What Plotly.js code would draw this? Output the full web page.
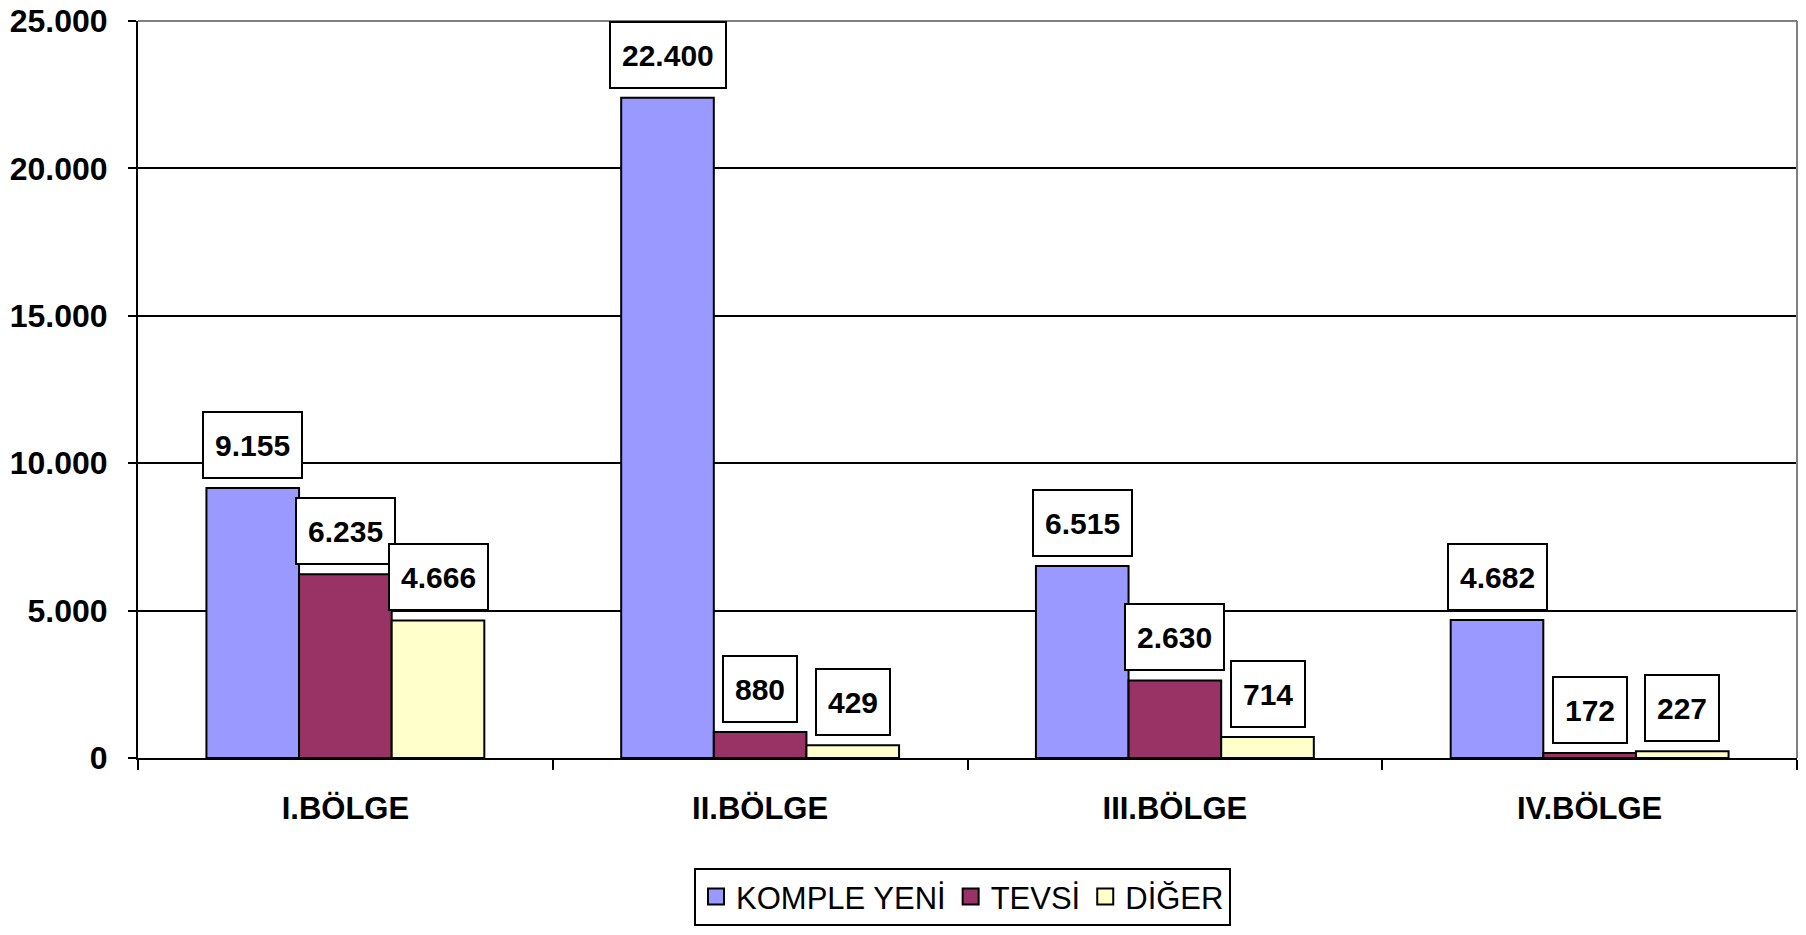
<!DOCTYPE html>
<html>
<head>
<meta charset="utf-8">
<script src="https://cdn.plot.ly/plotly-3.0.1.min.js"></script>
<style>html,body{margin:0;padding:0;background:#fff;}#chart{width:1806px;height:935px;}</style>
</head>
<body>
<div id="chart"></div>
<script>
const categories = ["I.BÖLGE", "II.BÖLGE", "III.BÖLGE", "IV.BÖLGE"];
const seriesNames = ["KOMPLE YENİ", "TEVSİ", "DİĞER"];
const kompleYeni = [9155, 22400, 6515, 4682];
const tevsi = [6235, 880, 2630, 172];
const diger = [4666, 429, 714, 227];
const yTicks = [0, 5000, 10000, 15000, 20000, 25000];

const colors = ["#9999FF", "#993366", "#FFFFCC"];
const seriesValues = [kompleYeni, tevsi, diger];
const bargap = 0.33;
const barW = (1 - bargap) / seriesValues.length;

function fmt(v) {
  return String(v).replace(/\B(?=(\d{3})+(?!\d))/g, ".");
}

const font = "Liberation Sans, Arial, sans-serif";

const traces = seriesValues.map((vals, s) => ({
  type: "bar",
  name: seriesNames[s],
  x: categories,
  y: vals,
  marker: {color: colors[s], line: {color: "#000", width: 2}},
  showlegend: false,
  hoverinfo: "none"
}));

// legend proxies (larger square symbols)
seriesNames.forEach((n, s) => {
  traces.push({
    type: "scatter",
    mode: "markers",
    name: n,
    x: [null], y: [null],
    marker: {symbol: "square", size: 16, color: colors[s], line: {color: "#000", width: 2}},
    showlegend: true,
    hoverinfo: "none"
  });
});

const annotations = [];
seriesValues.forEach((vals, s) => {
  const off = (s - (seriesValues.length - 1) / 2) * barW;
  vals.forEach((v, i) => {
    annotations.push({
      xref: "x", yref: "y",
      x: i + off, y: v,
      xanchor: "center", yanchor: "bottom",
      yshift: 9,
      text: "<b>" + fmt(v) + "</b>",
      showarrow: false,
      height: 42,
      bgcolor: "#fff",
      bordercolor: "#000",
      borderwidth: 2,
      borderpad: 11,
      font: {family: font, size: 30, color: "#000"}
    });
  });
});

const layout = {
  width: 1806, height: 935,
  margin: {l: 138, r: 9, t: 21, b: 174},
  paper_bgcolor: "#fff", plot_bgcolor: "#fff",
  separators: ",.",
  barmode: "group",
  bargap: bargap,
  bargroupgap: 0,
  showlegend: true,
  legend: {
    orientation: "h",
    x: 0.497, xanchor: "center",
    y: -0.149, yanchor: "top",
    bordercolor: "#000", borderwidth: 2,
    font: {family: font, size: 31, color: "#000"},
    itemsizing: "trace",
    itemwidth: 30,
    traceorder: "normal"
  },
  xaxis: {
    type: "category",
    showline: true, linecolor: "#000", linewidth: 2,
    ticks: "outside", tickson: "boundaries", ticklen: 10, tickwidth: 2, tickcolor: "#000",
    tickfont: {family: font, size: 31, color: "#000", weight: "bold"},
    ticklabelstandoff: 22,
    showgrid: false, zeroline: false,
    range: [-0.5, 3.5],
    fixedrange: true
  },
  yaxis: {
    range: [0, 25000],
    tickvals: yTicks,
    ticktext: yTicks.map(fmt),
    showline: true, linecolor: "#000", linewidth: 2,
    ticks: "outside", ticklen: 8, tickwidth: 2, tickcolor: "#000",
    tickfont: {family: font, size: 32, color: "#000", weight: "bold"},
    ticklabelstandoff: 14,
    showgrid: true, gridcolor: "#000", gridwidth: 2,
    zeroline: false,
    fixedrange: true
  },
  shapes: [
    {type: "line", xref: "paper", yref: "paper", x0: 0, x1: 1, y0: 1, y1: 1, line: {color: "#808080", width: 2}, layer: "above"},
    {type: "line", xref: "paper", yref: "paper", x0: 1, x1: 1, y0: 0, y1: 1, line: {color: "#808080", width: 2}, layer: "above"}
  ],
  annotations: annotations
};

Plotly.newPlot("chart", traces, layout, {displayModeBar: false, staticPlot: true});
</script>
</body>
</html>
